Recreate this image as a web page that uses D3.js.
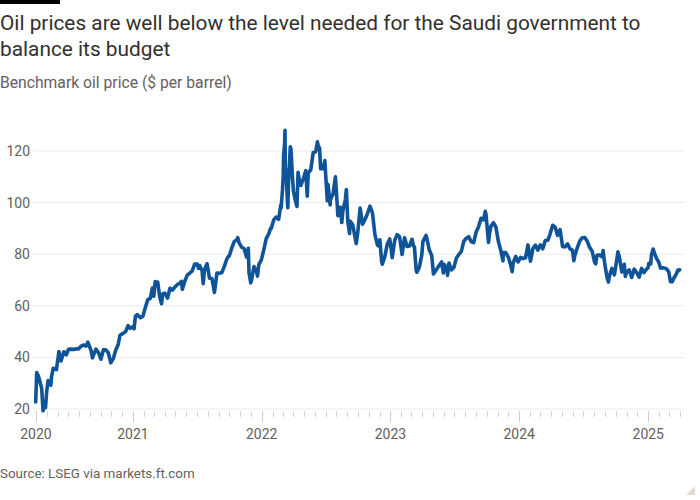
<!DOCTYPE html>
<html>
<head>
<meta charset="utf-8">
<script src="https://cdn.jsdelivr.net/npm/d3@7"></script>
<style>
  body { margin: 0; background: #fff; }
  svg text { font-family: Roboto, "Noto Sans", sans-serif; }
</style>
</head>
<body>
<svg id="chart" width="700" height="500"></svg>
<script>
// Brent crude, $ per barrel
const dates = [
  '2020-03-31', '2020-04-02', '2020-04-03', '2020-04-08', '2020-04-14', '2020-04-17', '2020-04-21', '2020-04-24', '2020-04-28',
  '2020-05-01', '2020-05-05', '2020-05-13', '2020-05-15', '2020-05-20', '2020-05-29', '2020-06-05', '2020-06-11', '2020-06-19',
  '2020-06-26', '2020-07-02', '2020-07-10', '2020-07-17', '2020-07-24', '2020-07-31', '2020-08-07', '2020-08-14', '2020-08-21',
  '2020-08-26', '2020-09-04', '2020-09-08', '2020-09-18', '2020-09-25', '2020-10-02', '2020-10-09', '2020-10-16', '2020-10-23',
  '2020-10-30', '2020-11-06', '2020-11-13', '2020-11-20', '2020-11-25', '2020-12-04', '2020-12-11', '2020-12-18', '2020-12-24',
  '2020-12-31',
  '2021-01-04', '2021-01-08', '2021-01-13', '2021-01-22', '2021-01-29', '2021-02-05', '2021-02-12', '2021-02-19', '2021-02-25',
  '2021-03-01', '2021-03-05', '2021-03-08', '2021-03-12', '2021-03-18', '2021-03-23', '2021-03-26', '2021-04-01', '2021-04-09',
  '2021-04-16', '2021-04-23', '2021-04-30', '2021-05-07', '2021-05-14', '2021-05-18', '2021-05-21', '2021-05-28', '2021-06-04',
  '2021-06-11', '2021-06-18', '2021-06-25', '2021-07-02', '2021-07-06', '2021-07-09', '2021-07-16', '2021-07-19', '2021-07-23',
  '2021-07-30', '2021-08-06', '2021-08-13', '2021-08-20', '2021-08-27', '2021-09-03', '2021-09-10', '2021-09-17', '2021-09-24',
  '2021-09-28', '2021-10-01', '2021-10-08', '2021-10-15', '2021-10-22', '2021-10-25', '2021-10-29', '2021-11-05', '2021-11-12',
  '2021-11-19', '2021-11-24', '2021-11-26', '2021-12-01', '2021-12-03', '2021-12-10', '2021-12-17', '2021-12-20', '2021-12-24',
  '2021-12-31',
  '2022-01-07', '2022-01-14', '2022-01-21', '2022-01-26', '2022-01-28', '2022-02-04', '2022-02-11', '2022-02-18', '2022-02-24',
  '2022-02-25', '2022-03-01', '2022-03-03', '2022-03-04', '2022-03-07', '2022-03-08', '2022-03-09', '2022-03-11', '2022-03-15',
  '2022-03-16', '2022-03-18', '2022-03-23', '2022-03-25', '2022-03-29', '2022-04-01', '2022-04-06', '2022-04-11', '2022-04-14',
  '2022-04-20', '2022-04-22', '2022-04-29', '2022-05-06', '2022-05-10', '2022-05-13', '2022-05-20', '2022-05-27', '2022-06-03',
  '2022-06-08', '2022-06-10', '2022-06-14', '2022-06-17', '2022-06-24', '2022-06-29', '2022-07-01', '2022-07-06', '2022-07-08',
  '2022-07-14', '2022-07-15', '2022-07-22', '2022-07-29', '2022-08-05', '2022-08-12', '2022-08-16', '2022-08-19', '2022-08-26',
  '2022-08-29', '2022-09-02', '2022-09-07', '2022-09-09', '2022-09-16', '2022-09-23', '2022-09-26', '2022-09-30', '2022-10-07',
  '2022-10-14', '2022-10-21', '2022-10-28', '2022-11-04', '2022-11-11', '2022-11-18', '2022-11-25', '2022-11-28', '2022-12-02',
  '2022-12-07', '2022-12-09', '2022-12-16', '2022-12-23', '2022-12-30',
  '2023-01-03', '2023-01-06', '2023-01-13', '2023-01-20', '2023-01-27', '2023-02-03', '2023-02-10', '2023-02-17', '2023-02-24',
  '2023-03-03', '2023-03-07', '2023-03-10', '2023-03-15', '2023-03-17', '2023-03-20', '2023-03-24', '2023-03-31', '2023-04-03',
  '2023-04-12', '2023-04-14', '2023-04-21', '2023-04-28', '2023-05-03', '2023-05-04', '2023-05-12', '2023-05-19', '2023-05-26',
  '2023-05-31', '2023-06-02', '2023-06-09', '2023-06-12', '2023-06-16', '2023-06-23', '2023-06-30', '2023-07-07', '2023-07-14',
  '2023-07-21', '2023-07-28', '2023-08-04', '2023-08-11', '2023-08-18', '2023-08-25', '2023-09-01', '2023-09-08', '2023-09-15',
  '2023-09-22', '2023-09-27', '2023-09-29', '2023-10-06', '2023-10-09', '2023-10-13', '2023-10-20', '2023-10-27', '2023-11-03',
  '2023-11-10', '2023-11-16', '2023-11-17', '2023-11-24', '2023-12-01', '2023-12-08', '2023-12-12', '2023-12-15', '2023-12-22',
  '2023-12-29',
  '2024-01-05', '2024-01-12', '2024-01-19', '2024-01-26', '2024-02-02', '2024-02-09', '2024-02-16', '2024-02-23', '2024-03-01',
  '2024-03-08', '2024-03-15', '2024-03-22', '2024-03-28', '2024-04-05', '2024-04-12', '2024-04-19', '2024-04-26', '2024-05-03',
  '2024-05-10', '2024-05-17', '2024-05-24', '2024-05-31', '2024-06-04', '2024-06-07', '2024-06-14', '2024-06-21', '2024-06-28',
  '2024-07-05', '2024-07-12', '2024-07-19', '2024-07-26', '2024-08-02', '2024-08-05', '2024-08-09', '2024-08-16', '2024-08-23',
  '2024-08-26', '2024-08-30', '2024-09-06', '2024-09-10', '2024-09-13', '2024-09-20', '2024-09-27', '2024-10-04', '2024-10-07',
  '2024-10-11', '2024-10-18', '2024-10-25', '2024-10-28', '2024-11-01', '2024-11-08', '2024-11-15', '2024-11-22', '2024-11-29',
  '2024-12-06', '2024-12-13', '2024-12-20', '2024-12-27', '2024-12-31',
  '2025-01-03', '2025-01-08', '2025-01-10', '2025-01-15', '2025-01-17', '2025-01-24', '2025-01-31', '2025-02-05', '2025-02-07',
  '2025-02-14', '2025-02-21', '2025-02-28', '2025-03-05', '2025-03-10', '2025-03-14', '2025-03-21', '2025-03-26', '2025-03-28',
  '2025-03-31'
]

const prices = [
  22.7, 29.9, 34.1, 32.8, 29.6, 28.1, 19.3, 21.4, 20.5,
  26.4, 31.0, 29.2, 32.5, 35.8, 35.3, 42.3, 38.6, 42.2,
  41.0, 43.1, 43.2, 43.1, 43.3, 43.3, 44.4, 44.8, 44.4,
  45.9, 42.7, 39.8, 43.2, 41.9, 39.3, 42.9, 42.9, 41.8,
  37.9, 39.5, 42.8, 45.0, 48.6, 49.3, 50.0, 52.3, 51.3,
  51.8,
  51.1, 56.0, 56.6, 55.4, 55.9, 59.3, 62.4, 62.9, 66.9,
  63.7, 69.4, 68.2, 69.2, 63.3, 60.8, 64.6, 64.9, 63.0,
  66.8, 66.1, 67.3, 68.3, 68.7, 69.5, 66.4, 69.6, 71.9,
  72.7, 73.5, 76.2, 76.2, 74.5, 75.6, 73.6, 68.6, 74.1,
  76.3, 70.7, 70.6, 65.2, 72.7, 72.6, 72.9, 75.3, 78.1,
  79.1, 79.3, 82.4, 84.9, 85.5, 86.4, 84.4, 82.7, 82.2,
  78.9, 82.3, 72.7, 68.9, 69.9, 75.2, 73.5, 71.5, 76.1,
  77.8,
  81.8, 86.1, 87.9, 90.0, 90.0, 93.3, 94.4, 93.5, 99.1,
  97.9, 105.0, 110.5, 118.1, 123.2, 128.0, 111.1, 112.7, 99.9,
  98.0, 107.9, 121.6, 120.7, 110.2, 104.4, 101.1, 98.5, 111.7,
  106.8, 106.7, 109.3, 112.4, 102.5, 111.6, 112.6, 119.4, 119.7,
  123.6, 122.0, 121.2, 113.1, 113.1, 116.3, 111.6, 100.7, 107.0,
  99.1, 101.2, 103.2, 110.0, 94.9, 98.2, 92.3, 96.7, 101.0,
  105.1, 93.0, 88.0, 92.8, 91.4, 86.2, 84.1, 88.0, 97.9,
  91.6, 93.5, 95.8, 98.6, 96.0, 87.6, 83.6, 83.2, 85.6,
  77.2, 76.1, 79.0, 83.9, 85.9,
  82.1, 78.6, 85.3, 87.6, 86.7, 79.9, 86.4, 83.0, 83.2,
  85.8, 83.3, 82.8, 73.7, 73.0, 73.8, 75.0, 79.8, 84.9,
  87.3, 86.3, 81.7, 79.5, 72.3, 72.5, 74.2, 75.6, 77.0,
  72.7, 76.1, 74.8, 71.8, 76.6, 73.9, 74.9, 78.5, 79.9,
  81.1, 85.0, 86.2, 86.8, 84.8, 84.5, 88.6, 90.7, 93.9,
  93.3, 96.6, 95.3, 84.6, 88.2, 90.9, 92.2, 90.5, 84.9,
  81.4, 77.4, 80.6, 80.6, 78.9, 75.8, 73.2, 76.6, 79.1,
  77.0,
  78.8, 78.3, 78.6, 83.6, 77.3, 82.2, 83.5, 81.6, 83.6,
  82.1, 85.3, 85.4, 87.5, 91.2, 90.5, 87.3, 89.5, 83.0,
  82.8, 84.0, 82.1, 81.6, 77.5, 79.6, 82.6, 85.2, 86.4,
  86.5, 85.0, 82.6, 81.1, 76.8, 76.3, 79.7, 79.7, 79.0,
  81.4, 76.9, 71.1, 69.2, 71.6, 74.5, 72.0, 78.1, 80.9,
  79.0, 73.1, 76.1, 71.4, 73.1, 73.9, 71.0, 74.2, 72.9,
  71.1, 74.5, 72.9, 74.2, 74.6,
  76.5, 76.2, 79.8, 82.0, 81.0, 78.5, 76.8, 74.6, 74.7,
  74.7, 74.4, 73.2, 69.3, 69.3, 70.6, 72.2, 73.8, 73.6,
  74.0
]

const yTicks = [20, 40, 60, 80, 100, 120]
const xLabels = ['2020', '2021', '2022', '2023', '2024', '2025']

const titleLines = [
  'Oil prices are well below the level needed for the Saudi government to',
  'balance its budget'
]
const subtitle = 'Benchmark oil price ($ per barrel)'
const source = 'Source: LSEG via markets.ft.com'

const parseDate = d3.utcParse('%Y-%m-%d')
const data = dates.map((d, i) => ({ date: parseDate(d), value: prices[i] }))

const START = parseDate('2020-04-01')
const END = parseDate('2025-04-01')

const svg = d3.select('#chart')

const x = d3.scaleUtc().domain([START, END]).range([36, 680])
const y = d3.scaleLinear().domain([20, 120]).range([409, 151])

// shrink/grow a text to a given width by changing its font size
function fitWidth (sel, target) {
  const fs = parseFloat(sel.attr('font-size'))
  const w = sel.node().getComputedTextLength()
  const size = fs * target / w
  sel.attr('font-size', size)
  return size
}

// header
svg.append('rect').attr('x', 0).attr('y', 0).attr('width', 60).attr('height', 4).attr('fill', '#000')

const t1 = svg.append('text')
  .attr('x', 0).attr('y', 30)
  .attr('font-size', 20)
  .attr('fill', '#33302e')
  .text(titleLines[0])
const titleSize = fitWidth(t1, 641)

svg.append('text')
  .attr('x', 0).attr('y', 56)
  .attr('font-size', titleSize)
  .attr('fill', '#33302e')
  .text(titleLines[1])

const sub = svg.append('text')
  .attr('x', 0).attr('y', 88)
  .attr('font-size', 15)
  .attr('fill', '#66605c')
  .text(subtitle)
fitWidth(sub, 232)

// gridlines + y labels
const grid = svg.append('g')
grid.selectAll('line')
  .data(yTicks)
  .join('line')
  .attr('x1', 33).attr('x2', 684)
  .attr('y1', d => y(d)).attr('y2', d => y(d))
  .attr('stroke', '#ecebea')
  .attr('stroke-width', 1)

grid.selectAll('text')
  .data(yTicks)
  .join('text')
  .attr('x', 30)
  .attr('y', d => y(d))
  .attr('dy', '0.35em')
  .attr('text-anchor', 'end')
  .attr('font-size', 14)
  .attr('fill', '#66605c')
  .text(d => d)

// x axis ticks: monthly minor, yearly major
const months = d3.utcMonth.range(START, d3.utcDay.offset(END, 1))
const majors = [START].concat(d3.utcYear.range(d3.utcYear.ceil(d3.utcDay.offset(START, 1)), END))

const axis = svg.append('g')
axis.selectAll('line.minor')
  .data(months)
  .join('line')
  .attr('class', 'minor')
  .attr('x1', d => Math.round(x(d)) + 0.5).attr('x2', d => Math.round(x(d)) + 0.5)
  .attr('y1', 411).attr('y2', 417)
  .attr('stroke', '#d9d6d3')

axis.selectAll('line.major')
  .data(majors)
  .join('line')
  .attr('class', 'major')
  .attr('x1', d => Math.round(x(d)) + 0.5).attr('x2', d => Math.round(x(d)) + 0.5)
  .attr('y1', 411).attr('y2', 422)
  .attr('stroke', '#cfcbc7')

axis.selectAll('text')
  .data(majors)
  .join('text')
  .attr('x', d => x(d))
  .attr('y', 439)
  .attr('text-anchor', 'middle')
  .attr('font-size', 14)
  .attr('fill', '#66605c')
  .text((d, i) => xLabels[i])

// price line
const line = d3.line()
  .x(d => x(d.date))
  .y(d => y(d.value))

svg.append('path')
  .datum(data)
  .attr('fill', 'none')
  .attr('stroke', '#0f5499')
  .attr('stroke-width', 3.6)
  .attr('stroke-linejoin', 'round')
  .attr('stroke-linecap', 'round')
  .attr('d', line)

// footer
const src = svg.append('text')
  .attr('x', 0).attr('y', 478)
  .attr('font-size', 14)
  .attr('fill', '#66605c')
  .text(source)
fitWidth(src, 195)

// resize corner
svg.append('path')
  .attr('d', 'M686,495L695,486L695,495Z')
  .attr('fill', '#e3dcd4')
</script>
</body>
</html>
